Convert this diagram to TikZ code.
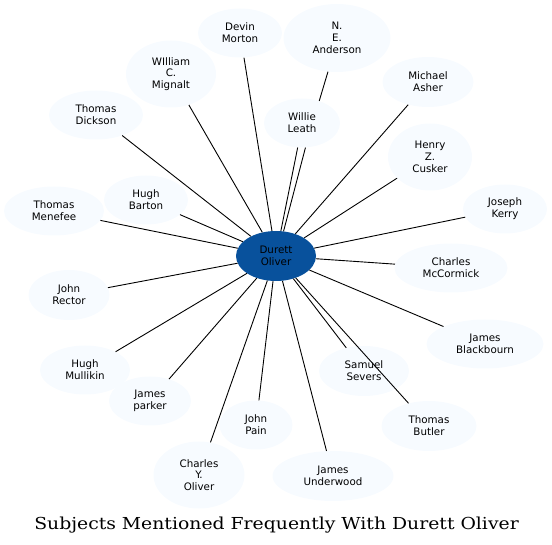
\documentclass[tikz,border=0pt]{standalone}
\usepackage{fontspec}
\setmainfont{DejaVu Sans}
\newfontfamily\titlefont{DejaVu Serif}
\usetikzlibrary{shapes.geometric}
\definecolor{bluesDark}{HTML}{08519C}
\definecolor{bluesLight}{HTML}{F7FBFF}

\tikzset{
    subject/.style={ellipse, fill=bluesLight, inner sep=0pt, align=center,
        font=\fontsize{10.3}{11.7}\selectfont, text=black},
    focus/.style={subject, fill=bluesDark},
    link/.style={line width=0.9pt, black}
}

\begin{document}
\begin{tikzpicture}[x=1pt, y=-1pt]
    \useasboundingbox (0,0) rectangle (552,545);

    % Subjects around the centre
    \node[subject, minimum width=84pt, minimum height=49pt] (devin) at (240,33) {Devin\\Morton};
    \node[subject, minimum width=107pt, minimum height=68pt] (anderson) at (337,38) {N.\\E.\\Anderson};
    \node[subject, minimum width=90pt, minimum height=67pt] (mignalt) at (171,74) {WIlliam\\C.\\Mignalt};
    \node[subject, minimum width=94pt, minimum height=49pt] (dickson) at (96,115) {Thomas\\Dickson};
    \node[subject, minimum width=91pt, minimum height=50pt] (asher) at (428,82) {Michael\\Asher};
    \node[subject, minimum width=76pt, minimum height=49pt] (leath) at (302,123) {Willie\\Leath};
    \node[subject, minimum width=84pt, minimum height=67pt] (cusker) at (430,157) {Henry\\Z.\\Cusker};
    \node[subject, minimum width=84pt, minimum height=49pt] (barton) at (146,200) {Hugh\\Barton};
    \node[subject, minimum width=100pt, minimum height=49pt] (menefee) at (54,211) {Thomas\\Menefee};
    \node[subject, minimum width=84pt, minimum height=49pt] (kerry) at (505,209) {Joseph\\Kerry};
    \node[subject, minimum width=113pt, minimum height=49pt] (mccormick) at (451,268) {Charles\\McCormick};
    \node[subject, minimum width=81pt, minimum height=50pt] (rector) at (69,295) {John\\Rector};
    \node[subject, minimum width=117pt, minimum height=49pt] (blackbourn) at (485,344) {James\\Blackbourn};
    \node[subject, minimum width=90pt, minimum height=49pt] (mullikin) at (85,370) {Hugh\\Mullikin};
    \node[subject, minimum width=90pt, minimum height=50pt] (severs) at (364,371) {Samuel\\Severs};
    \node[subject, minimum width=82pt, minimum height=49pt] (parker) at (150,401) {James\\parker};
    \node[subject, minimum width=73pt, minimum height=49pt] (pain) at (256,425) {John\\Pain};
    \node[subject, minimum width=95pt, minimum height=50pt] (butler) at (429,426) {Thomas\\Butler};
    \node[subject, minimum width=91pt, minimum height=67pt] (cyoliver) at (199,475) {Charles\\Y.\\Oliver};
    \node[subject, minimum width=121pt, minimum height=50pt] (underwood) at (333,476) {James\\Underwood};

    % Centre
    \node[focus, minimum width=80pt, minimum height=50pt] (durett) at (276,256) {Durett\\Oliver};

    % Links
    \foreach \n in {devin, mignalt, dickson, asher, cusker, barton, menefee, kerry,
                    mccormick, rector, blackbourn, mullikin, severs, parker, pain,
                    butler, cyoliver, underwood}
        \draw[link] (durett) -- (\n);
    \draw[link] (durett.79) -- (leath.260);
    \draw[link] (durett.73) -- (leath.278);
    \draw[link] (anderson.255) -- (leath.52);

    \node[font=\titlefont\fontsize{16.5}{19}\selectfont, anchor=base, inner sep=0pt] (title) at (276.5,529)
        {\scalebox{1.14}[1]{Subjects Mentioned Frequently With Durett Oliver}};
\end{tikzpicture}
\end{document}
